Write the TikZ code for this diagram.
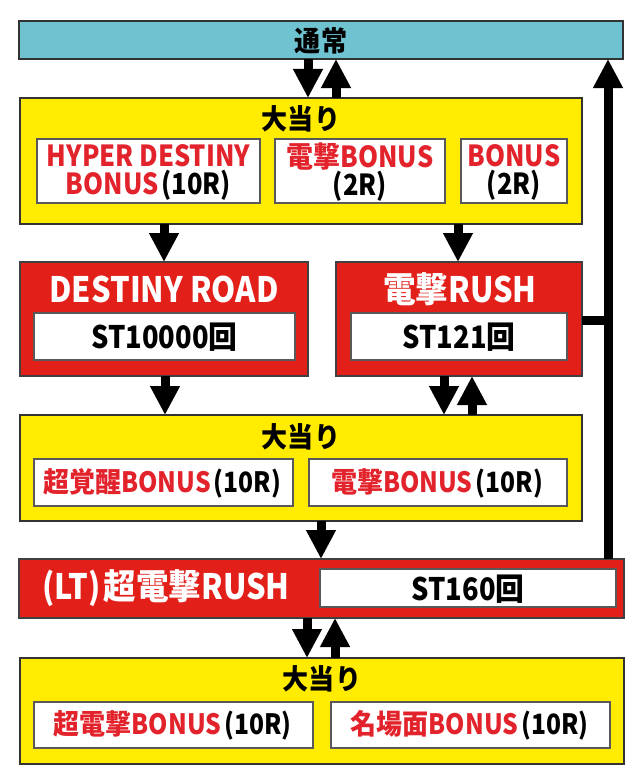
\documentclass[tikz,border=0pt]{standalone}
\usepackage{fontspec}
\IfFontExistsTF{Noto Sans CJK JP Black}{\def\hv{Noto Sans CJK JP Black}}{\IfFontExistsTF{Noto Sans CJK JP Bold}{\def\hv{Noto Sans CJK JP Bold}}{\def\hv{Noto Sans CJK JP}}}
\setmainfont{\hv}[FakeStretch=0.88]
\newfontfamily\jpf{\hv}[FakeStretch=0.93]
\newcommand{\J}[1]{{\jpf #1}}
\newcommand{\R}[1]{{\color{black}\hspace{3pt}(#1)}}
\usetikzlibrary{arrows.meta}
\definecolor{cyanbar}{HTML}{6FC3D1}
\definecolor{yel}{HTML}{FFEC00}
\definecolor{redbox}{HTML}{E31F1A}
\definecolor{redtxt}{HTML}{E3232B}
\newcommand{\fs}[1]{\fontsize{#1}{#1}\selectfont}
\tikzset{
  bx/.style={inner sep=0pt, outer sep=0pt, line width=1.3pt},
  bar/.style={bx, draw=black!80, fill=cyanbar},
  ybox/.style={bx, draw=black!80, fill=yel},
  rbox/.style={bx, draw=black!75, fill=redbox},
  wbox/.style={bx, draw=black!65, fill=white},
  lbl/.style={inner sep=0pt, outer sep=0pt, align=center},
  arr/.style={line width=9pt, -{Triangle[width=28pt,length=29pt]}},
  link/.style={line width=9pt},
}
\begin{document}
\begin{tikzpicture}[x=1pt,y=-1pt]
\useasboundingbox (0,0) rectangle (640,784);
% top bar
\node[bar, minimum width=604pt, minimum height=38pt] (tsujo) at (321,40) {};
\node[lbl, font=\fs{28}] (tsujot) at (321,41) {\J{通常}};
% first big hit box
\node[ybox, minimum width=562pt, minimum height=126pt] (y1) at (301,161) {};
\node[lbl, font=\fs{28}] (y1t) at (301,119) {\J{大当り}};
\node[wbox, minimum width=223pt, minimum height=64pt] (b1) at (148.5,171) {};
\node[lbl, font=\fs{29}, text=redtxt] (b1t) at (148.5,172) {HYPER DESTINY\\[-1pt]BONUS\R{10R}};
\node[wbox, minimum width=170pt, minimum height=64pt] (b2) at (360,171) {};
\node[lbl, font=\fs{29}, text=redtxt] (b2t) at (360,172) {\J{電撃}BONUS\\[-1pt]{\color{black}(2R)}};
\node[wbox, minimum width=106pt, minimum height=64pt] (b3) at (514,171) {};
\node[lbl, font=\fs{29}, text=redtxt] (b3t) at (514,172) {BONUS\\[-1pt]{\color{black}(2R)}};
% red boxes
\node[rbox, minimum width=288pt, minimum height=114pt] (dr) at (164,319) {};
\node[lbl, font=\fs{35}, text=white] (drt) at (164,289) {DESTINY ROAD};
\node[wbox, minimum width=261pt, minimum height=47pt] (drw) at (164.5,336.5) {};
\node[lbl, font=\fs{31}] (drwt) at (164.5,337) {ST10000\J{回}};
\node[rbox, minimum width=246pt, minimum height=114pt] (rush) at (459,319) {};
\node[lbl, font=\fs{35}, text=white] (rusht) at (460,289) {\J{電撃}RUSH};
\node[wbox, minimum width=216pt, minimum height=47pt] (rushw) at (459,336.5) {};
\node[lbl, font=\fs{31}] (rushwt) at (459,337) {ST121\J{回}};
% second big hit box
\node[ybox, minimum width=562pt, minimum height=106pt] (y2) at (301,468) {};
\node[lbl, font=\fs{28}] (y2t) at (301,437) {\J{大当り}};
\node[wbox, minimum width=259pt, minimum height=47pt] (c1) at (163.5,482.5) {};
\node[lbl, font=\fs{28}, text=redtxt] (c1t) at (162,483) {\J{超覚醒}BONUS\R{10R}};
\node[wbox, minimum width=258pt, minimum height=47pt] (c2) at (438,482.5) {};
\node[lbl, font=\fs{28}, text=redtxt] (c2t) at (437,483) {\J{電撃}BONUS\R{10R}};
% LT bar
\node[rbox, minimum width=605pt, minimum height=59pt] (lt) at (321.5,588.5) {};
\node[lbl, font=\fs{35}, text=white] (ltt) at (166,588) {(LT)\hspace{3pt}\J{超電撃}RUSH};
\node[wbox, minimum width=296pt, minimum height=38pt] (ltw) at (468,588) {};
\node[lbl, font=\fs{31}] (ltwt) at (468,589) {ST160\J{回}};
% third big hit box
\node[ybox, minimum width=604pt, minimum height=106pt] (y3) at (322,711) {};
\node[lbl, font=\fs{28}] (y3t) at (322,679) {\J{大当り}};
\node[wbox, minimum width=279pt, minimum height=46pt] (d1) at (173.5,725) {};
\node[lbl, font=\fs{28}, text=redtxt] (d1t) at (172.5,725.5) {\J{超電撃}BONUS\R{10R}};
\node[wbox, minimum width=279pt, minimum height=46pt] (d2) at (470.5,725) {};
\node[lbl, font=\fs{28}, text=redtxt] (d2t) at (469.5,725.5) {\J{名場面}BONUS\R{10R}};
% connectors
\draw[arr] (308,0 |- tsujo.south) -- (308,0 |- y1.north);
\draw[arr] (336,0 |- y1.north) -- (336,0 |- tsujo.south);
\draw[arr] (164,0 |- y1.south) -- (164,0 |- dr.north);
\draw[arr] (458,0 |- y1.south) -- (458,0 |- rush.north);
\draw[arr] (165,0 |- dr.south) -- (165,0 |- y2.north);
\draw[arr] (444,0 |- rush.south) -- (444,0 |- y2.north);
\draw[arr] (472,0 |- y2.north) -- (472,0 |- rush.south);
\draw[arr] (321,0 |- y2.south) -- (321,0 |- lt.north);
\draw[arr] (307,0 |- lt.south) -- (307,0 |- y3.north);
\draw[arr] (335,0 |- y3.north) -- (335,0 |- lt.south);
\coordinate (jn) at (608,320);
\draw[link] (rush.east |- jn) -- (jn);
\draw[arr] (608,0 |- lt.north) -- (608,0 |- tsujo.south);
\end{tikzpicture}
\end{document}
